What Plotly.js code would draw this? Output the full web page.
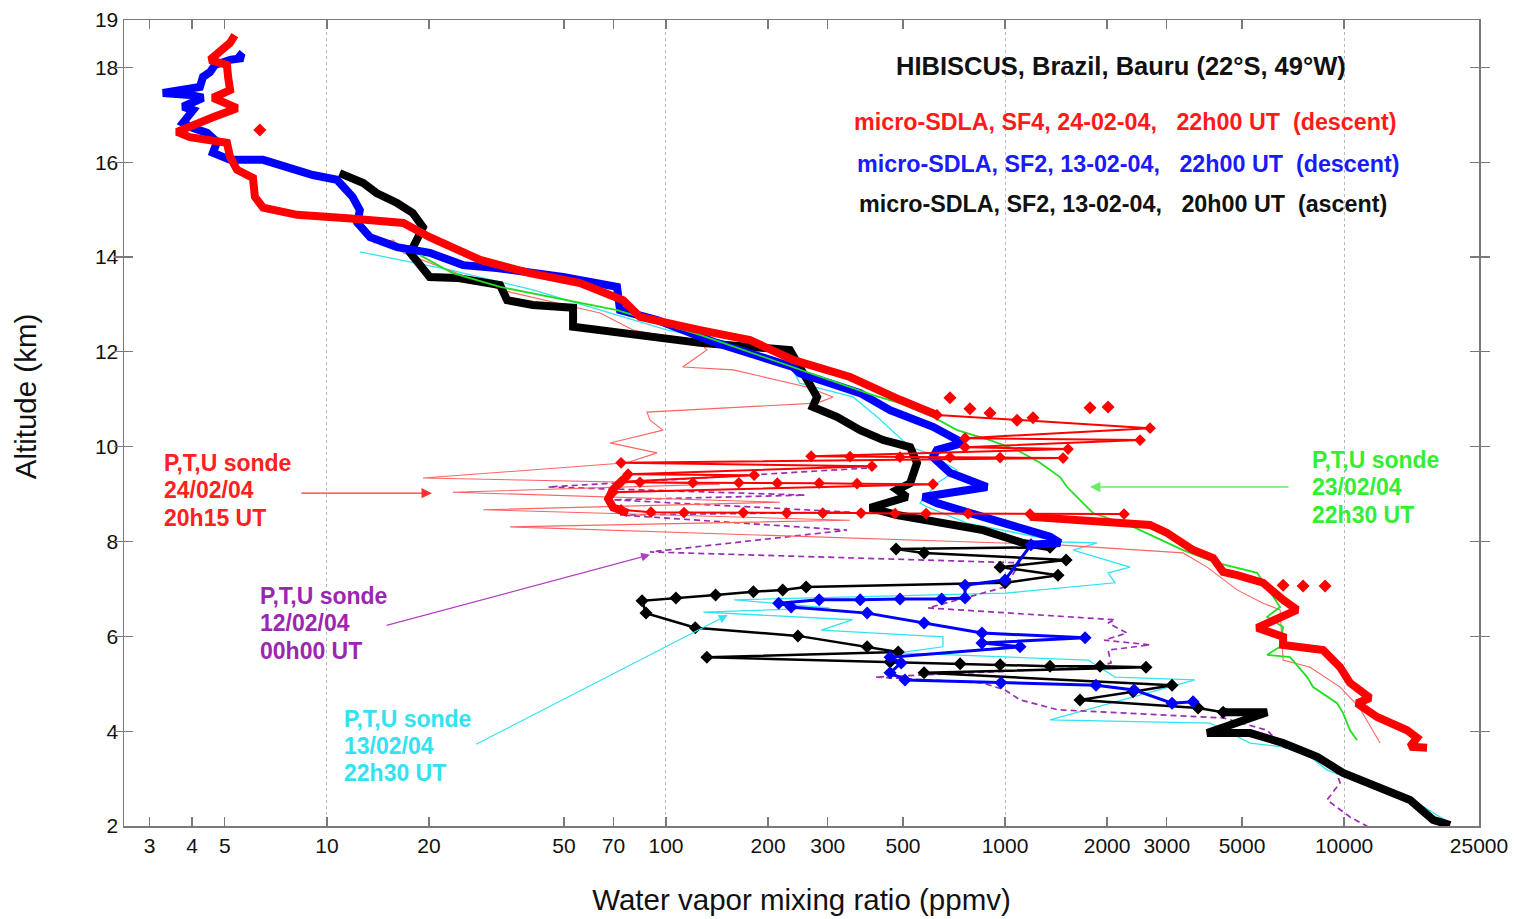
<!DOCTYPE html>
<html><head><meta charset="utf-8">
<script src="https://cdn.plot.ly/plotly-3.0.1.min.js"></script>
<style>html,body{margin:0;padding:0;background:#fff;}#chart{width:1518px;height:919px;}</style>
</head><body><div id="chart"></div>
<script>
// ---- micro-SDLA, SF4, 24-02-04 (descent), red ----
var redTopX = [5.35,5.18,4.52,5.07,5.11,5.18,4.61,5.43,4.61,3.61,3.94,5.07,5.18,5.43,6.05,6.13,6.48,8.16,11.5,16.8,20.1,28.3,39.7,55.8,74.7,83.8,126,177,237,349,490,630];
var redTopY = [18.68,18.52,18.16,18.05,17.80,17.52,17.36,17.14,16.95,16.64,16.53,16.41,16.11,15.84,15.67,15.27,15.04,14.89,14.82,14.72,14.42,13.94,13.66,13.45,13.09,12.74,12.46,12.25,11.83,11.47,10.99,10.67];
var redExcX = [630,2677,762,2502,762,1534,268,349,490,688,967,1483,73.7,405,77.3,182,73.7,83.8,120,164,213,283,366,613,69.8,null,73.7,90.3,113,169,227,290,376,474,585,778,1185,2244];
var redExcY = [10.67,10.39,10.18,10.14,9.99,9.95,9.80,9.79,9.78,9.78,9.77,9.76,9.66,9.59,9.42,9.40,9.26,9.25,9.24,9.24,9.23,9.23,9.22,9.21,9.04,null,8.67,8.62,8.61,8.61,8.60,8.60,8.60,8.59,8.59,8.59,8.58,8.58];
var redCurlX = [77.3,69.8,67.5,69.8,77.3];
var redCurlY = [9.40,9.10,8.90,8.72,8.60];
var redLowX = [1185,1932,2677,3006,3586,4108,4397,4835,5769,6609,7267,5539,6609,6609,8672,9732,10410,11930,10920,12510,15340,16420,15650,17570];
var redLowY = [8.52,8.41,8.35,8.18,7.82,7.65,7.36,7.29,7.13,6.77,6.56,6.18,5.99,5.82,5.71,5.35,5.02,4.70,4.59,4.30,4.02,3.86,3.67,3.65];
var redDotX = [6.34,688,788,903,1085,1209,1781,2013,6609,7568,8790];
var redDotY = [16.68,11.03,10.80,10.71,10.56,10.61,10.82,10.84,7.08,7.06,7.06];

// ---- micro-SDLA, SF2, 13-02-04 (descent), blue ----
var blueTopX = [5.43,5.65,5.18,4.67,4.52,4.31,4.22,3.28,3.94,4.31,3.76,4.03,3.76,4.03,4.43,4.74,4.61,5.18,6.48,7.62,9.09,10.7,11.9,12.5,12.3,13.4,16.1,20.1,25.2,31.7,49.7,71.7,73.2,94.1,141,237,248,374,458,613,752,630,613,688,885,573,630,861,1085,1357,1453,1193];
var blueTopY = [18.30,18.20,18.16,18.05,17.90,17.80,17.59,17.46,17.42,17.36,17.17,17.10,16.83,16.72,16.62,16.43,16.20,16.05,16.05,15.90,15.73,15.63,15.27,14.99,14.72,14.42,14.21,14.09,13.83,13.77,13.58,13.37,12.88,12.67,12.19,11.68,11.55,11.13,10.77,10.42,10.08,9.93,9.78,9.45,9.15,8.94,8.81,8.52,8.31,8.10,7.97,7.93];
var blueLowX = [1193,1000,762,762,650,490,374,283,215,234,392,577,855,1722,855,1107,458,494,458,507,973,1855,2402,3109,3586];
var blueLowY = [7.93,7.19,7.08,6.81,6.79,6.79,6.77,6.77,6.70,6.62,6.49,6.28,6.07,5.97,5.86,5.78,5.56,5.44,5.23,5.08,5.02,4.97,4.87,4.59,4.62];

// ---- micro-SDLA, SF2, 13-02-04 (ascent), black ----
var blackTopX = [10.9,12.8,14.0,16.1,17.9,19.2,18.4,17.6,20.1,24.2,32.4,34.0,40.5,53.2,53.2,63.9,101,126,232,266,279,271,319,374,437,525,550,525,480,514,400,480,861,1130,1357];
var blackTopY = [15.77,15.56,15.35,15.14,14.93,14.63,14.36,14.09,13.58,13.56,13.41,13.09,12.99,12.93,12.53,12.46,12.31,12.19,12.04,11.26,11.05,10.84,10.63,10.35,10.14,9.99,9.66,9.23,9.09,8.94,8.71,8.56,8.24,7.97,7.88];
var blackLowX = [1357,477,577,1514,967,1433,1000,259,221,181,140,107,85.0,87.3,122,245,392,484,132,458,737,967,1357,1906,2605,577,3109,2386,1664,3710,4397];
var blackLowY = [7.88,7.84,7.76,7.61,7.46,7.29,7.13,7.04,6.98,6.94,6.87,6.81,6.75,6.49,6.18,6.01,5.78,5.67,5.56,5.46,5.42,5.40,5.37,5.37,5.35,5.23,4.97,4.83,4.66,4.49,4.40];
var blackBotX = [4397,5929,3944,5281,6609,8326,9933,13030,15650,18300,20550];
var blackBotY = [4.40,4.40,3.96,3.96,3.75,3.46,3.12,2.76,2.55,2.13,2.02];

// ---- P,T,U sondes ----
var greenX = [18.8,23.5,32.4,51.1,71.7,126,248,408,490,613,722,903,1085,1268,1453,1524,1699,1818,2386,3351,4221,5539,6476,5929,6609,6476,5929,6928,7782,8103,9537,9933,10410,10920];
var greenY = [14.04,13.66,13.37,13.09,12.88,12.36,11.62,11.09,10.92,10.63,10.35,10.14,9.93,9.66,9.36,9.15,8.81,8.60,8.31,7.82,7.55,7.34,6.62,6.41,6.20,5.78,5.61,5.56,5.14,4.93,4.59,4.38,4.02,3.81];
var redSondeX = [13.7,15.7,16.8,32.4,63.9,80.0,126,132,112,158,260,311,279,87.9,89.7,98.0,68.4,94.1,76.7,19.2,144,23.5,217,28.9,349,34.7,1433,3351,3944,4835,5769,6476,6609,7940,9732,11070,12770];
var redSondeY = [14.30,14.36,14.09,13.31,12.82,12.46,12.19,12.04,11.68,11.62,11.26,11.05,10.92,10.73,10.56,10.35,10.08,9.87,9.66,9.34,9.21,9.04,8.83,8.67,8.45,8.31,7.93,7.76,7.46,6.98,6.70,6.56,5.50,5.35,4.93,4.51,3.75];
var purpleX = [392,44.9,257,69.8,349,73.2,342,89.7,1107,1000,593,2111,2013,2290,1959,2677,2013,2055,1855,414,855,1000,1107,1433,4397,5929,6609,9282,9732,8907,10410,11930];
var purpleY = [9.55,9.15,8.98,8.88,8.62,8.56,8.24,7.78,7.55,7.04,6.60,6.35,6.28,6.07,5.92,5.82,5.71,5.44,5.35,5.14,5.02,4.87,4.66,4.45,4.28,4.02,3.67,3.33,2.91,2.55,2.19,1.96];
var cyanX = [12.5,23.0,40.5,80.0,101,158,237,248,356,419,525,589,722,630,561,589,773,1085,1483,1868,1587,2337,2013,2111,1000,159,303,129,354,287,656,656,484,1757,2111,3635,1357,4024,5281,6609,7940,8907,13030,16420,20550];
var cyanY = [14.11,13.73,13.31,12.67,12.46,12.19,11.62,11.34,11.05,10.63,9.99,9.87,9.51,9.23,8.81,8.73,8.39,8.18,7.99,7.97,7.82,7.46,7.34,7.13,6.91,6.77,6.60,6.51,6.35,6.13,5.99,5.78,5.65,5.50,5.14,5.08,4.24,4.17,3.75,3.67,3.46,3.18,2.76,2.49,2.06];

// ---- axes ----
var xTickVals = [3,4,5,10,20,50,70,100,200,300,500,1000,2000,3000,5000,10000,25000];
var xTickText = ['3','4','5','10','20','50','70','100','200','300','500','1000','2000','3000','5000','10000','25000'];
var xGridVals = [10,100,1000,10000];
var yTickVals = [2,4,6,8,10,12,14,16,18,19];
var yTickText = ['2','4','6','8','10','12','14','16','18','19'];
var xMin = 2.52, xMax = 25000;

// ---- label texts ----
var headerText = 'HIBISCUS, Brazil, Bauru (22°S, 49°W)';
var NB = '\u00a0';
var legendLines = [
  ['micro-SDLA, SF4, 24-02-04,' + NB+NB+NB + '22h00 UT' + NB+NB + '(descent)', '#ff1a1a'],
  ['micro-SDLA, SF2, 13-02-04,' + NB+NB+NB + '22h00 UT' + NB+NB + '(descent)', '#1a1aff'],
  ['micro-SDLA, SF2, 13-02-04,' + NB+NB+NB + '20h00 UT' + NB+NB + '(ascent)', '#111111']
];
var sondeLabels = [
  [['P,T,U sonde', '24/02/04', '20h15 UT'], '#ff2020'],
  [['P,T,U sonde', '12/02/04', '00h00 UT'], '#9b27b0'],
  [['P,T,U sonde', '13/02/04', '22h30 UT'], '#33e2f0'],
  [['P,T,U sonde', '23/02/04', '22h30 UT'], '#33ee33']
];

var RED = '#ff0000', BLUE = '#0000ff', BLACK = '#000000';
var THICK = 8;

function thick(x, y, c) {
  return {x: x, y: y, type: 'scatter', mode: 'lines', line: {color: c, width: THICK}, hoverinfo: 'skip', showlegend: false};
}
function dotted(x, y, c, lw, ms) {
  return {x: x, y: y, type: 'scatter', mode: 'lines+markers', line: {color: c, width: lw}, marker: {color: c, size: ms, symbol: 'diamond'}, connectgaps: false, hoverinfo: 'skip', showlegend: false};
}
function thin(x, y, c, w, dash) {
  return {x: x, y: y, type: 'scatter', mode: 'lines', line: {color: c, width: w, dash: dash || 'solid'}, hoverinfo: 'skip', showlegend: false};
}

var traces = [
  {x: [], y: [], xaxis: 'x2', yaxis: 'y', type: 'scatter', mode: 'lines', showlegend: false, hoverinfo: 'skip'},
  thin(cyanX, cyanY, '#30e4f2', 1.3),
  thin(purpleX, purpleY, '#9b2db3', 1.7, '6px,4px'),
  thin(redSondeX, redSondeY, '#ff6464', 1.1),
  dotted(blackLowX, blackLowY, BLACK, 2.5, 10),
  thick(blackTopX, blackTopY, BLACK),
  thick(blackBotX, blackBotY, BLACK),
  dotted(blueLowX, blueLowY, BLUE, 3, 10),
  thick(blueTopX, blueTopY, BLUE),
  thin(greenX, greenY, '#22dd22', 1.8),
  dotted(redExcX, redExcY, RED, 2, 9),
  thick(redCurlX, redCurlY, RED),
  thick(redLowX, redLowY, RED),
  thick(redTopX, redTopY, RED),
  {x: redDotX, y: redDotY, type: 'scatter', mode: 'markers', marker: {color: RED, size: 10, symbol: 'diamond'}, hoverinfo: 'skip', showlegend: false}
];

var FONT = 'Liberation Sans, Arial, sans-serif';
var axisCommon = {showline: true, linecolor: '#7a7a7a', linewidth: 1.5, mirror: 'allticks', ticks: 'inside', ticklen: 9, tickwidth: 1.2, tickcolor: '#7a7a7a', showgrid: false, zeroline: false, tickfont: {family: FONT, size: 21, color: '#111'}};

function pap(px) { return (px - 124) / 1355; }
function papY(py) { return (826 - py) / 806.5; }
function fnt(c, s) { return {family: FONT, size: s, color: c}; }

var annotations = [
  {xref: 'paper', yref: 'paper', x: pap(1121), y: papY(66), xanchor: 'center', yanchor: 'middle', showarrow: false, text: '<b>' + headerText + '</b>', font: fnt('#111', 25.5)},
  {xref: 'paper', yref: 'paper', x: pap(25), y: papY(396), xanchor: 'center', yanchor: 'middle', textangle: -90, showarrow: false, text: 'Altitude (km)', font: fnt('#111', 29.5)}
];
var legendPos = [[852, 122], [855, 164], [857, 204]];
legendLines.forEach(function (l, i) {
  annotations.push({xref: 'paper', yref: 'paper', x: pap(legendPos[i][0]), y: papY(legendPos[i][1]), xanchor: 'left', yanchor: 'middle', showarrow: false, text: '<b>' + l[0] + '</b>', font: fnt(l[1], 23.3)});
});
var sondePos = [[162, 463], [258, 596], [342, 719], [1310, 460]];
sondeLabels.forEach(function (s, i) {
  s[0].forEach(function (line, j) {
    annotations.push({xref: 'paper', yref: 'paper', x: pap(sondePos[i][0]), y: papY(sondePos[i][1] + 27.2 * j), xanchor: 'left', yanchor: 'middle', showarrow: false, text: '<b>' + line + '</b>', font: fnt(s[1], 23)});
  });
});
// arrows (head in data coords, tail offset in px)
annotations.push(
  {xref: 'x', yref: 'y', x: Math.log10(20.4), y: 9.02, ax: -132, ay: 0, text: '', showarrow: true, arrowhead: 2, arrowsize: 1.6, arrowwidth: 1.3, arrowcolor: '#ff3030'},
  {xref: 'x', yref: 'y', x: Math.log10(89.7), y: 7.72, ax: -265, ay: 71, text: '', showarrow: true, arrowhead: 2, arrowsize: 1.6, arrowwidth: 1.1, arrowcolor: '#b040c0'},
  {xref: 'x', yref: 'y', x: Math.log10(152), y: 6.45, ax: -253, ay: 130, text: '', showarrow: true, arrowhead: 2, arrowsize: 1.6, arrowwidth: 1.1, arrowcolor: '#30e4f2'},
  {xref: 'x', yref: 'y', x: Math.log10(1781), y: 9.15, ax: 200, ay: 0, text: '', showarrow: true, arrowhead: 2, arrowsize: 1.6, arrowwidth: 1.3, arrowcolor: '#66ee66'}
);

var layout = {
  width: 1518, height: 919,
  margin: {l: 124, r: 39, t: 20, b: 93},
  paper_bgcolor: '#fff', plot_bgcolor: '#fff',
  showlegend: false,
  xaxis: Object.assign({}, axisCommon, {
    type: 'log', range: [Math.log10(xMin), Math.log10(xMax)],
    tickmode: 'array', tickvals: xTickVals, ticktext: xTickText,
    title: {text: 'Water vapor mixing ratio (ppmv)', font: {family: FONT, size: 29.5, color: '#111'}, standoff: 33}
  }),
  xaxis2: {
    type: 'log', overlaying: 'x', range: [Math.log10(xMin), Math.log10(xMax)],
    tickmode: 'array', tickvals: xGridVals, showticklabels: false, ticks: '',
    showgrid: true, gridcolor: '#b8b8b8', gridwidth: 1, griddash: 'dot', showline: false, zeroline: false
  },
  yaxis: Object.assign({}, axisCommon, {
    range: [2, 19], tickmode: 'array', tickvals: yTickVals, ticktext: yTickText
  }),
  annotations: annotations
};

Plotly.newPlot('chart', traces, layout, {displayModeBar: false, staticPlot: true});
</script></body></html>
